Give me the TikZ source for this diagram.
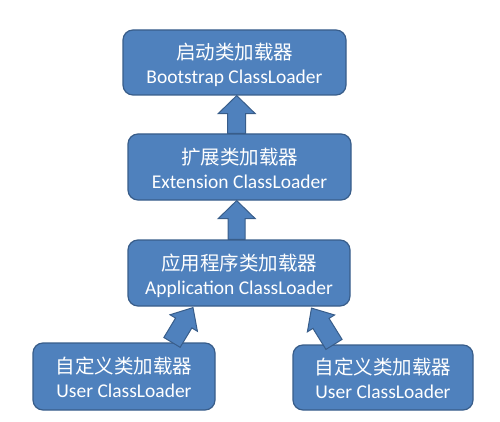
\documentclass[tikz,border=0pt]{standalone}
\usepackage{fontspec}
\setmainfont{Carlito}
\newfontfamily\cjk{Noto Sans CJK SC}
\usetikzlibrary{calc}
\definecolor{boxfill}{HTML}{4F81BD}
\definecolor{boxline}{HTML}{385D8A}
\tikzset{
  loader/.style={draw=boxline, fill=boxfill, line width=1.2pt, rounded corners=10pt,
    text=white, inner sep=0pt, font=\fontsize{19.5}{25}\selectfont},
  fatarrow/.style={draw=boxline, fill=boxfill, line width=1pt, line join=miter}
}
\newcommand\twolines[2]{\raisebox{-4pt}[\height][\depth]{\begin{tabular}{@{}c@{}}{\cjk #1}\\[-1pt]#2\end{tabular}}}
\newcommand\fatarrow[5]{%
  \coordinate (fatneck) at ($(#2)!#5!(#1)$);
  \draw[fatarrow] ($(#1)!#3!90:(#2)$) -- ($(fatneck)!#3!90:(#2)$) -- ($(fatneck)!#4!90:(#2)$)
    -- (#2) -- ($(fatneck)!#4!-90:(#2)$) -- ($(fatneck)!#3!-90:(#2)$) -- ($(#1)!#3!-90:(#2)$) -- cycle;}
\begin{document}
\begin{tikzpicture}[x=1pt,y=-1pt]
\useasboundingbox (0,0) rectangle (500,422);
\node[loader, minimum width=223pt, minimum height=65pt] (boot) at (234.5,62.5)
  {\twolines{启动类加载器}{Bootstrap ClassLoader}};
\node[loader, minimum width=223pt, minimum height=66pt] (ext) at (239.5,167)
  {\twolines{扩展类加载器}{Extension ClassLoader}};
\node[loader, minimum width=222pt, minimum height=66pt] (app) at (239,273)
  {\twolines{应用程序类加载器}{Application ClassLoader}};
\node[loader, minimum width=182pt, minimum height=67pt] (userl) at (124,376.5)
  {\twolines{自定义类加载器}{User ClassLoader}};
\node[loader, minimum width=180pt, minimum height=65pt] (userr) at (383,377.5)
  {\twolines{自定义类加载器}{User ClassLoader}};
% connector end points
\coordinate (a1s) at ($(ext.north)+(-2.8,0)$);
\coordinate (a1t) at (a1s |- boot.south);
\coordinate (a2s) at ($(app.north)+(-2.3,0)$);
\coordinate (a2t) at (a2s |- ext.south);
\coordinate (a3s) at ($(userl.north)+(48,0)$);
\coordinate (a3t) at ($(app.south)+(-46,1)$);
\coordinate (a4s) at ($(userr.north)+(-49,0)$);
\coordinate (a4t) at ($(app.south)+(72.5,1.5)$);
\fatarrow{a1s}{a1t}{9pt}{18.5pt}{18pt}
\fatarrow{a2s}{a2t}{8.5pt}{18.5pt}{18pt}
\fatarrow{a3s}{a3t}{9.5pt}{16pt}{18pt}
\fatarrow{a4s}{a4t}{9.5pt}{16pt}{18pt}
\end{tikzpicture}
\end{document}
